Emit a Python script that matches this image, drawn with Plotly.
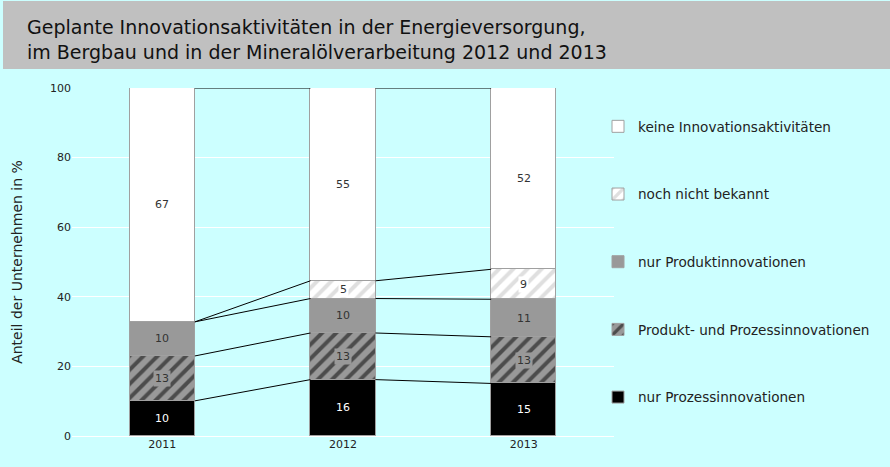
import plotly.graph_objects as go

years = ["2011", "2012", "2013"]
nur_prozess = [10.1, 16.2, 15.1]
prod_und_proz = [12.9, 13.4, 13.4]
nur_produkt = [9.8, 9.9, 10.8]
noch_nicht = [0.0, 5.1, 8.6]
keine = [67.2, 55.4, 52.1]

names = [
    "nur Prozessinnovationen",
    "Produkt- und Prozessinnovationen",
    "nur Produktinnovationen",
    "noch nicht bekannt",
    "keine Innovationsaktivitäten",
]
series = [nur_prozess, prod_und_proz, nur_produkt, noch_nicht, keine]
colors = ["#000000", "#999999", "#999999", "#FFFFFF", "#FFFFFF"]
patterns = [None, dict(shape="/", bgcolor="#999999", fgcolor="#000000", size=10, solidity=0.4),
            None, dict(shape="/", bgcolor="#FFFFFF", fgcolor="#BFBFBF", size=10, solidity=0.4), None]
label_colors = ["#FFFFFF", "#333333", "#333333", "#333333", "#333333"]
label_bg = [None, "#999999", None, "#FFFFFF", None]

BAR_W = 0.36
FONT = "DejaVu Sans"
xs = list(range(len(years)))

# plot area in pixels
L, R, T, B = 72, 614, 88, 436
W, H = R - L, B - T


def px_x(p):
    return (p - L) / W


def px_y(p):
    return (B - p) / H


fig = go.Figure()
n = len(series)
for i, (nm, vals) in enumerate(zip(names, series)):
    marker = dict(color=colors[i], line=dict(color="#A0A0A0", width=1))
    if patterns[i]:
        marker["pattern"] = patterns[i]
    fig.add_trace(go.Bar(x=xs, y=vals, name=nm, marker=marker, width=BAR_W,
                         legendgroup=nm, legendrank=n - i, hoverinfo="skip"))

# series lines connecting segment tops
cum = [0.0] * len(years)
annotations = []
for i, vals in enumerate(series):
    base = cum[:]
    cum = [c + v for c, v in zip(cum, vals)]
    lx, ly = [], []
    for j in range(len(years) - 1):
        lx += [xs[j] + BAR_W / 2, xs[j + 1] - BAR_W / 2, None]
        ly += [cum[j], cum[j + 1], None]
    fig.add_trace(go.Scatter(x=lx, y=ly, mode="lines", line=dict(color="black", width=1),
                             showlegend=False, hoverinfo="skip"))
    for j, v in enumerate(vals):
        if v <= 0:
            continue
        a = dict(x=xs[j], y=base[j] + v / 2, text=f"{v:.0f}", showarrow=False,
                 font=dict(family=FONT, size=11, color=label_colors[i]),
                 xref="x", yref="y", borderpad=1)
        if label_bg[i]:
            a["bgcolor"] = label_bg[i]
        annotations.append(a)

annotations.append(dict(
    text="Geplante Innovationsaktivitäten in der Energieversorgung,<br>im Bergbau und in der Mineralölverarbeitung 2012 und 2013",
    xref="paper", yref="paper", x=px_x(25), y=px_y(39), xanchor="left", yanchor="middle",
    align="left", showarrow=False, font=dict(family=FONT, size=19, color="#111111")))

fig.update_layout(
    width=890, height=467,
    margin=dict(l=L, r=890 - R, t=T, b=467 - B, autoexpand=False),
    paper_bgcolor="#CCFFFF",
    plot_bgcolor="#CCFFFF",
    barmode="stack",
    bargap=0,
    font=dict(family=FONT, size=11, color="#222222"),
    xaxis=dict(range=[-0.5, 2.5], tickvals=xs, ticktext=years, showgrid=False, automargin=False,
               zeroline=False, showline=False, ticks="", tickfont=dict(size=11, color="#222222")),
    yaxis=dict(range=[0, 100], dtick=20, showgrid=True, gridcolor="white", gridwidth=1,
               zeroline=True, zerolinecolor="white", zerolinewidth=1, showline=False, automargin=False,
               ticks="", tickfont=dict(size=11, color="#222222"),
               title=dict(text="Anteil der Unternehmen in %", font=dict(size=14, color="#222222"), standoff=24)),
    legend=dict(traceorder="grouped", tracegroupgap=47,
                x=px_x(598), xanchor="left", y=px_y(111), yanchor="top",
                font=dict(family=FONT, size=13.6, color="#222222"), bgcolor="rgba(0,0,0,0)"),
    annotations=annotations,
    shapes=[dict(type="rect", xref="paper", yref="paper",
                 x0=px_x(3), x1=px_x(892),
                 y0=px_y(69), y1=px_y(1),
                 fillcolor="#C0C0C0", line=dict(width=0), layer="below")],
)

fig.write_html("out.html", config={"displayModeBar": False},
               post_script="document.body.style.margin='0';")
